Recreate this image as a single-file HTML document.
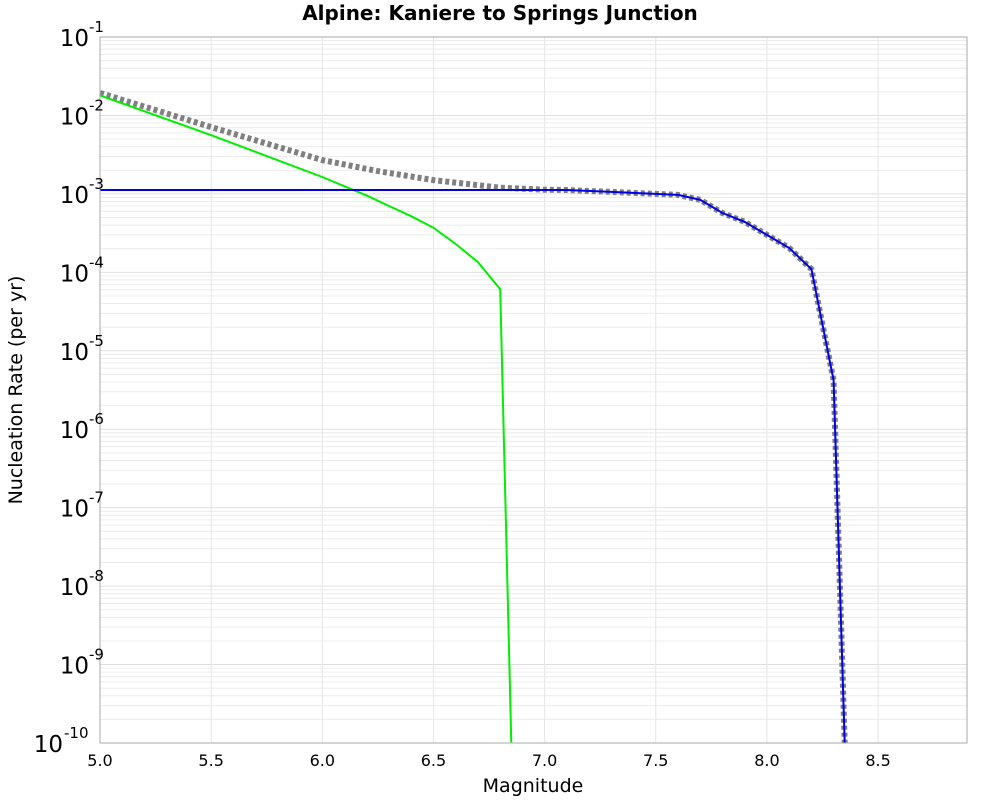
<!DOCTYPE html>
<html><head><meta charset="utf-8"><style>
body{margin:0;background:#fff;}
svg text{font-family:"DejaVu Sans","Liberation Sans",sans-serif;}
</style></head><body>
<svg id="chart" width="1000" height="800" xmlns="http://www.w3.org/2000/svg">
<text x="500" y="20" text-anchor="middle" font-size="20" font-weight="bold">Alpine: Kaniere to Springs Junction</text>
<g id="grid"></g>
<g id="series"></g>
<rect x="100" y="37" width="867" height="706" fill="none" stroke="#aaa" stroke-width="1"/>
<g id="axes"></g>
<text x="533" y="792" text-anchor="middle" font-size="19">Magnitude</text>
<text transform="translate(22,390) rotate(-90)" text-anchor="middle" font-size="19">Nucleation Rate (per yr)</text>
</svg>
<script>
const xTicks=[5.0,5.5,6.0,6.5,7.0,7.5,8.0,8.5];
const yExps=[-1,-2,-3,-4,-5,-6,-7,-8,-9,-10];
const greenMag=[5.0,5.5,6.0,6.1,6.2,6.3,6.4,6.5,6.6,6.7,6.8,6.85];
const greenRate=[1.8e-2,5.6e-3,1.64e-3,1.25e-3,9.5e-4,7.0e-4,5.2e-4,3.7e-4,2.3e-4,1.35e-4,6.1e-5,1e-10];
const blueMag=[5.0,7.0,7.1,7.3,7.6,7.7,7.8,7.9,8.0,8.1,8.2,8.3,8.35];
const blueRate=[1.12e-3,1.12e-3,1.12e-3,1.06e-3,9.7e-4,8.4e-4,5.7e-4,4.4e-4,3.0e-4,2.04e-4,1.1e-4,4.2e-6,1e-10];
const totalMag=[5.0,5.5,6.0,6.25,6.5,6.8,7.0,7.1,7.3,7.6,7.7,7.8,7.9,8.0,8.1,8.2,8.3,8.35];
const totalRate=[1.93e-2,7.1e-3,2.7e-3,1.95e-3,1.5e-3,1.2e-3,1.13e-3,1.12e-3,1.06e-3,9.7e-4,8.4e-4,5.7e-4,4.4e-4,3.0e-4,2.04e-4,1.1e-4,4.2e-6,1e-10];
const X0=100,X1=967,Y0=37,Y1=743,xmin=5.0,xmax=8.9,lmin=-10,lmax=-1;
const NS="http://www.w3.org/2000/svg";
function sx(v){return X0+(v-xmin)/(xmax-xmin)*(X1-X0);}
function sy(v){return Y1-(Math.log10(v)-lmin)/(lmax-lmin)*(Y1-Y0);}
function mk(tag,attrs,parent){const e=document.createElementNS(NS,tag);for(const k in attrs)e.setAttribute(k,attrs[k]);parent.appendChild(e);return e;}
const grid=document.getElementById('grid'),axes=document.getElementById('axes'),ser=document.getElementById('series');
for(let e=-10;e<-1;e++){for(let m=2;m<=9;m++){const y=sy(m*Math.pow(10,e));
const l=mk('line',{x1:X0,x2:X1,y1:y,y2:y,stroke:'#ececec','stroke-width':1},grid);

}}
yExps.forEach(e=>{const y=sy(Math.pow(10,e));
const l=mk('line',{x1:X0,x2:X1,y1:y,y2:y,stroke:'#e0e0e0','stroke-width':1},grid);


const t=mk('text',{x:e===-10?63:89,y:y+9,'text-anchor':'end','font-size':23},axes);


t.textContent='10';
const s=mk('text',{x:e===-10?64:89,y:y-5,'font-size':15},axes);


s.textContent=String(e);
});
xTicks.forEach(v=>{const x=sx(v);
const l=mk('line',{x1:x,x2:x,y1:Y0,y2:Y1,stroke:'#e6e6e6','stroke-width':1},grid);


const t=mk('text',{x:x,y:766,'text-anchor':'middle','font-size':16},axes);


t.textContent=v.toFixed(1);});
function pts(ms,rs){return ms.map((m,i)=>sx(m).toFixed(1)+','+sy(rs[i]).toFixed(1)).join(' ');}
const tot=mk('polyline',{points:pts(totalMag,totalRate),fill:'none',stroke:'#808080','stroke-width':6,'stroke-dasharray':'4,3'},ser);


const g=mk('polyline',{points:pts(greenMag,greenRate),fill:'none',stroke:'#00ee00','stroke-width':2},ser);


const b=mk('polyline',{points:pts(blueMag,blueRate),fill:'none',stroke:'#0000ee','stroke-width':2},ser);


</script>
</body></html>
